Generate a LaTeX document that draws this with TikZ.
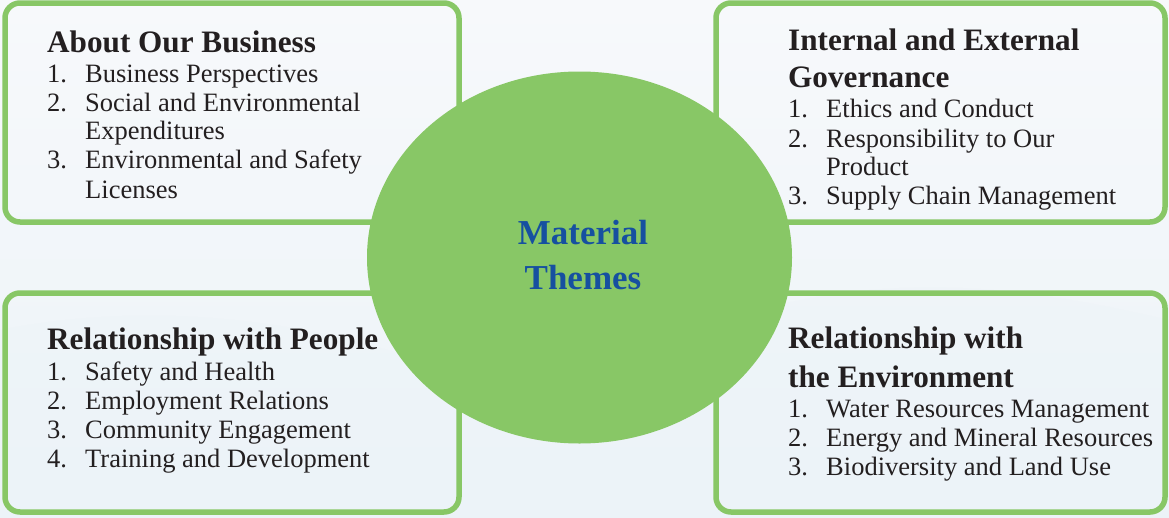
\documentclass[tikz,border=0pt]{standalone}
\usepackage{fontspec}
\setmainfont{Liberation Serif}
\definecolor{leaf}{RGB}{136,199,102}
\definecolor{themeblue}{RGB}{22,80,160}
\definecolor{inkdark}{RGB}{35,31,32}
\definecolor{mistA}{RGB}{247,249,251}
\definecolor{mistB}{RGB}{236,243,248}
\tikzset{
  panel/.style={draw=leaf, line width=5.5pt, rounded corners=15pt},
  hub/.style={ellipse, fill=leaf, draw=none},
  heading/.style={anchor=base west, inner sep=0pt, text=inkdark,
    font=\fontsize{31.2}{34}\selectfont\bfseries},
  itemnum/.style={anchor=base west, inner sep=0pt, text=inkdark,
    font=\fontsize{26.5}{29}\selectfont},
  itemtext/.style={anchor=base west, inner sep=0pt, text=inkdark,
    font=\fontsize{26.5}{29}\selectfont},
  hubtext/.style={anchor=base, inner sep=0pt, text=themeblue,
    font=\fontsize{35}{40}\selectfont\bfseries}
}
\usetikzlibrary{shapes.geometric}
\begin{document}
\begin{tikzpicture}[x=1pt,y=-1pt]
% misty backdrop
\useasboundingbox (0,0) rectangle (1169,517);
\shade[top color=mistA, bottom color=mistB] (0,0) rectangle (1169,517);
\fill[mistB, opacity=0.4] (0,517) -- (0,330) .. controls (150,300) and (300,320) .. (420,360)
  .. controls (520,390) and (650,330) .. (800,300) .. controls (950,270) and (1080,300) .. (1169,320)
  -- (1169,517) -- cycle;

% four theme panels
\draw[panel] (5,3) rectangle (459,222);
\draw[panel] (716,3) rectangle (1165,222);
\draw[panel] (5,293) rectangle (459,512);
\draw[panel] (716,293) rectangle (1165,512);

% central hub
\node[hub, minimum width=425pt, minimum height=372pt] (hub) at (579.5,257.5) {};
\node[hubtext] (hubA) at (583,244) {Material};
\node[hubtext] (hubB) at (583,289) {Themes};

% About Our Business
\node[heading] (b0) at (47,52) {About Our Business};
\node[itemnum] (b1n) at (47,82) {1.};
\node[itemtext] (b1) at (85,82) {Business Perspectives};
\node[itemnum] (b2n) at (47,111) {2.};
\node[itemtext] (b2) at (85,111) {Social and Environmental};
\node[itemtext] (b2b) at (85,139) {Expenditures};
\node[itemnum] (b3n) at (47,168) {3.};
\node[itemtext] (b3) at (85,168) {Environmental and Safety};
\node[itemtext] (b3b) at (85,198) {Licenses};

% Internal and External Governance
\node[heading] (g0) at (788,50) {Internal and External};
\node[heading] (g0b) at (788,87) {Governance};
\node[itemnum] (g1n) at (788,117) {1.};
\node[itemtext] (g1) at (826,117) {Ethics and Conduct};
\node[itemnum] (g2n) at (788,147) {2.};
\node[itemtext] (g2) at (826,147) {Responsibility to Our};
\node[itemtext] (g2b) at (826,175) {Product};
\node[itemnum] (g3n) at (788,204) {3.};
\node[itemtext] (g3) at (826,204) {Supply Chain Management};

% Relationship with People
\node[heading] (p0) at (47,349) {Relationship with People};
\node[itemnum] (p1n) at (47,380) {1.};
\node[itemtext] (p1) at (85,380) {Safety and Health};
\node[itemnum] (p2n) at (47,409) {2.};
\node[itemtext] (p2) at (85,409) {Employment Relations};
\node[itemnum] (p3n) at (47,438) {3.};
\node[itemtext] (p3) at (85,438) {Community Engagement};
\node[itemnum] (p4n) at (47,467) {4.};
\node[itemtext] (p4) at (85,467) {Training and Development};

% Relationship with the Environment
\node[heading] (e0) at (788,348) {Relationship with};
\node[heading] (e0b) at (788,387) {the Environment};
\node[itemnum] (e1n) at (788,417) {1.};
\node[itemtext] (e1) at (826,417) {Water Resources Management};
\node[itemnum] (e2n) at (788,446) {2.};
\node[itemtext] (e2) at (826,446) {Energy and Mineral Resources};
\node[itemnum] (e3n) at (788,475) {3.};
\node[itemtext] (e3) at (826,475) {Biodiversity and Land Use};
\end{tikzpicture}
\end{document}
